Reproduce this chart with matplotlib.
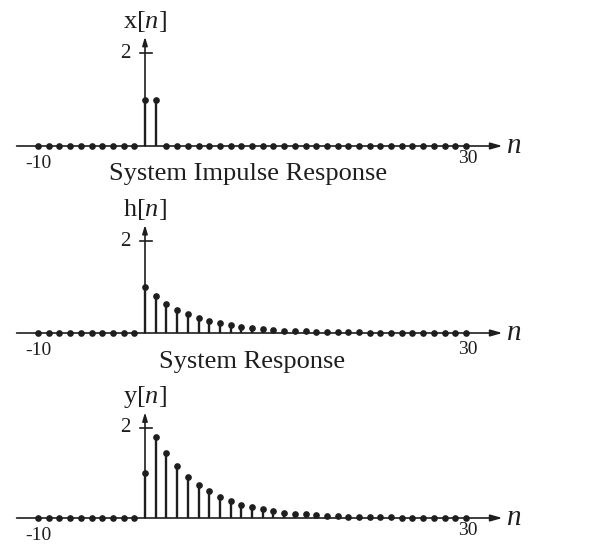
import numpy as np
import matplotlib.pyplot as plt

plt.rcParams['font.family'] = ['Liberation Serif', 'DejaVu Serif']
plt.rcParams['mathtext.fontset'] = 'custom'
plt.rcParams['mathtext.rm'] = 'Liberation Serif'
plt.rcParams['mathtext.it'] = 'Liberation Serif:italic'

# sample index range
n = np.arange(-10, 31)

# excitation: two unit pulses at n = 0 and n = 1
x_n = [0, 1]
x_vals = [1.0, 1.0]

# impulse response, n = 0 .. 30
h_vals = [1.00, 0.80, 0.64, 0.51, 0.41, 0.33, 0.26, 0.21, 0.17, 0.13,
          0.11, 0.09, 0.07, 0.05, 0.04, 0.035, 0.03, 0.02, 0.018, 0.014,
          0.012, 0.009, 0.007, 0.006, 0.005, 0.004, 0.003, 0.002, 0.002, 0.001, 0.001]

# system response, n = 0 .. 30
y_vals = [1.00, 1.80, 1.44, 1.15, 0.92, 0.74, 0.59, 0.47, 0.38, 0.30,
          0.24, 0.19, 0.15, 0.12, 0.10, 0.08, 0.06, 0.05, 0.04, 0.03,
          0.025, 0.02, 0.016, 0.013, 0.01, 0.008, 0.006, 0.005, 0.004, 0.003, 0.003]

def full(idx, vals):
    out = np.zeros(len(n))
    for k, v in zip(idx, vals):
        out[k + 10] = v
    return out

signals = [
    ('x', full(x_n, x_vals), -0.26),
    ('h', full(range(31), h_vals), -0.36),
    ('y', full(range(31), y_vals), -0.28),
]

W, H = 615, 550
fig = plt.figure(figsize=(W / 100, H / 100), dpi=100)

# panel geometry in pixels: top, bottom, baseline, px per unit
panels = [(0, 183, 146, 46.5), (183, 365, 333, 46.0), (365, 550, 518, 45.0)]
px_per_n = 10.7
x0 = 145
ink = '#1e1e1e'

for (name, vals, y30), (top, bot, base, unit) in zip(signals, panels):
    ax = fig.add_axes([0, 1 - bot / H, 1, (bot - top) / H])
    ax.set_xlim(-x0 / px_per_n, (W - x0) / px_per_n)
    ax.set_ylim(-(bot - base) / unit, (base - top) / unit)
    ax.axis('off')

    # horizontal axis with arrow
    ax.annotate('', xy=(33.4, 0), xytext=(-12, 0),
                arrowprops=dict(arrowstyle='-|>,head_length=0.7,head_width=0.2',
                                color=ink, lw=1.2, shrinkA=0, shrinkB=0))
    # vertical axis with arrow
    ax.annotate('', xy=(0, 2.35), xytext=(0, 0),
                arrowprops=dict(arrowstyle='-|>,head_length=0.5,head_width=0.15',
                                color=ink, lw=1.2, shrinkA=0, shrinkB=0))
    ax.plot([-0.5, 0.7], [2, 2], color=ink, lw=1.2)

    ml, sl, bl = ax.stem(n, vals, linefmt='k-', markerfmt='ko', basefmt=' ')
    ml.set_markersize(3.8)
    ml.set_color(ink)
    sl.set_linewidth(1.7)
    sl.set_color(ink)

    ax.text(-1.8, 2, '2', fontsize=15, ha='center', va='center', color=ink)
    ax.text(0, 2.68, name + '[$n$]', fontsize=19, ha='center', va='center', color=ink)
    ax.text(-10, -0.38, '-10', fontsize=14, ha='center', va='center', color=ink)
    ax.text(30.2, y30, '30', fontsize=14, ha='center', va='center', color=ink)
    ax.text(33.7, 0.0, '$n$', fontsize=21, ha='left', va='center', color=ink)

fig.text(248 / W, 1 - 174 / H, 'System Impulse Response', fontsize=19,
         ha='center', va='center', color=ink)
fig.text(252 / W, 1 - 362 / H, 'System Response', fontsize=19,
         ha='center', va='center', color=ink)

fig.savefig('out.png', dpi=100)
